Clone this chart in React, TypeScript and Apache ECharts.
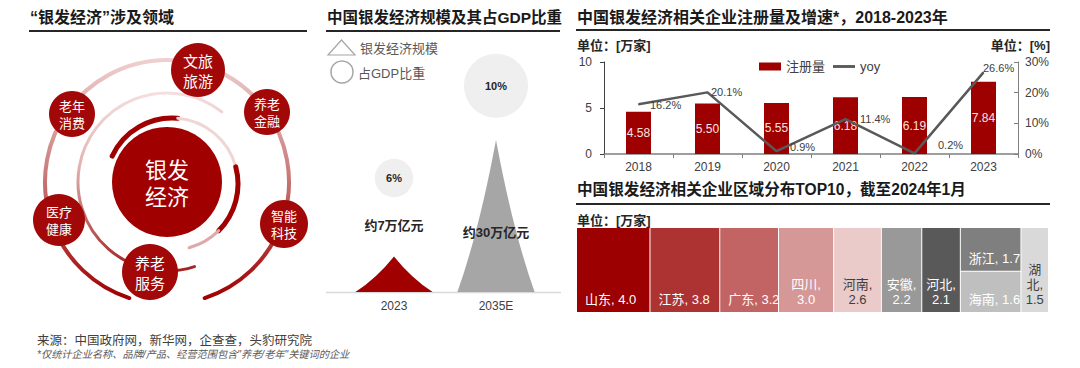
import { useEffect, useRef } from 'react';
import * as echarts from 'echarts';

// ---------- data ----------
const years = ['2018', '2019', '2020', '2021', '2022', '2023'];
const registrations = [4.58, 5.5, 5.55, 6.18, 6.19, 7.84]; // 万家
const yoy = [16.2, 20.1, 0.9, 11.4, 0.2, 26.6]; // %

const scaleYears = ['2023', '2035E'];
const scaleValues = [7, 30]; // 万亿元
const scaleLabels = ['约7万亿元', '约30万亿元'];
const gdpShare = [6, 10]; // %

const regions = ['山东', '江苏', '广东', '四川', '河南', '安徽', '河北', '浙江', '海南', '湖北'];
const regionValues = [4.0, 3.8, 3.2, 3.0, 2.6, 2.2, 2.1, 1.7, 1.6, 1.5];

const centerTopic = '银发\n经济';
const domains = ['文旅\n旅游', '养老\n金融', '智能\n科技', '养老\n服务', '医疗\n健康', '老年\n消费'];

// ---------- styles / layout ----------
const FF = '"Liberation Sans", "Noto Sans CJK SC", sans-serif';
const RED = '#9E0000';
const regionColors = ['#9C0000', '#AD3333', '#C26464', '#D69797', '#EBCACA', '#999999', '#595959', '#7F7F7F', '#BFBFBF', '#D9D9D9'];
const regionText = ['#fff', '#fff', '#fff', '#fff', '#404040', '#fff', '#fff', '#fff', '#fff', '#404040'];
const regionWrap = [0, 0, 0, 1, 1, 1, 1, 0, 0, 2];
const domainLayout = [
  { x: 198, y: 70, r: 27, fs: 15 },
  { x: 267, y: 112, r: 23, fs: 13 },
  { x: 284, y: 224, r: 24, fs: 13 },
  { x: 150, y: 272, r: 28, fs: 15 },
  { x: 59, y: 220, r: 26, fs: 13 },
  { x: 72, y: 114, r: 23, fs: 13 },
];
const yoyLabelOffsets = [[6, 1], [-2, 0], [8, -4], [9, 0], [18, -8], [-6, -4]];
const scaleColors = ['#A00000', '#A6A6A6'];
const scaleLabelPos = [{ position: 'top', offset: [0, -20] }, { position: 'inside', offset: [0, 16] }];
const bubbleLift = [22.5, 40.7]; // layout: vertical anchor of share bubbles (hidden axis units)

const deg = Math.PI / 180;

function txt(x: number, y: number, text: string, o: any = {}) {
  return {
    type: 'text',
    x,
    y,
    silent: true,
    style: {
      text,
      fill: o.color ?? '#262626',
      fontSize: o.size ?? 12,
      fontFamily: FF,
      fontWeight: o.bold ? 'bold' : 'normal',
      fontStyle: o.italic ? 'italic' : 'normal',
      textAlign: o.align ?? 'left',
      align: o.align ?? 'left',
      textVerticalAlign: 'middle',
      verticalAlign: 'middle',
      lineHeight: o.lh ?? Math.round((o.size ?? 12) * 1.25),
    },
  };
}
function hline(x1: number, x2: number, y: number, color = '#262626', w = 2) {
  return { type: 'line', silent: true, shape: { x1, y1: y, x2, y2: y }, style: { stroke: color, lineWidth: w } };
}
function arc(cx: number, cy: number, r: number, a0: number, a1: number, stroke: any, lw: number) {
  return {
    type: 'arc',
    silent: true,
    shape: { cx, cy, r, startAngle: a0 * deg, endAngle: a1 * deg, clockwise: true },
    style: { stroke, lineWidth: lw, fill: null, lineCap: 'round' },
  };
}

function buildOption() {
  const grad = (stops: [number, string][]) =>
    new echarts.graphic.LinearGradient(0, 0, 0, 1, stops.map(([offset, color]) => ({ offset, color })));

  const graphics: any[] = [
    // titles
    txt(30, 17, '“银发经济”涉及领域', { size: 16, bold: true, color: '#1a1a1a' }),
    hline(29, 307, 31),
    txt(327, 17, '中国银发经济规模及其占GDP比重', { size: 15.5, bold: true, color: '#1a1a1a' }),
    hline(326, 560, 31),
    txt(577, 17, '中国银发经济相关企业注册量及增速*，2018-2023年', { size: 16, bold: true, color: '#1a1a1a' }),
    hline(576, 1050, 30),
    txt(577, 45, '单位：[万家]', { size: 13, bold: true }),
    txt(1050, 45, '单位：[%]', { size: 13, bold: true, align: 'right' }),
    txt(577, 189, '中国银发经济相关企业区域分布TOP10，截至2024年1月', { size: 15.6, bold: true, color: '#1a1a1a' }),
    hline(576, 1050, 204),
    txt(577, 220, '单位：[万家]', { size: 13, bold: true }),
    // footer
    txt(37, 341, '来源：中国政府网，新华网，企查查，头豹研究院', { size: 12.5, color: '#404040' }),
    txt(37, 354, '*仅统计企业名称、品牌/产品、经营范围包含"养老/老年"关键词的企业', { size: 10.2, italic: true, color: '#595959' }),
    // panel 2 legend + baseline
    { type: 'polygon', silent: true, shape: { points: [[328, 55], [341.5, 40], [355, 55]] }, style: { fill: null, stroke: '#A6A6A6', lineWidth: 1.2 } },
    txt(360, 48, '银发经济规模', { size: 13, color: '#595959' }),
    { type: 'circle', silent: true, shape: { cx: 342, cy: 72, r: 11 }, style: { fill: null, stroke: '#A6A6A6', lineWidth: 1.5 } },
    txt(358, 73, '占GDP比重', { size: 13, color: '#595959' }),
    hline(326, 561, 292.5, '#D9D9D9', 1.5),
    // panel 1 rings
    arc(167, 182, 122, 108, 72, grad([[0, '#EFCFCF'], [0.45, '#CC8080'], [1, '#A00000']]), 4),
    arc(167, 182, 89, 72, 308, grad([[0, '#F4DEDE'], [0.4, '#E3B3B3'], [1, '#A52020']]), 3),
    arc(172, 184, 66, 205, 275, '#A00000', 5),
    arc(172, 184, 66, 275, 345, '#F0D5D5', 3),
    arc(172, 184, 66, 345, 405, '#A00000', 5),
    arc(172, 184, 66, 405, 435, '#DDA9A9', 3),
    { type: 'circle', silent: true, shape: { cx: 167, cy: 182, r: 55 }, style: { fill: '#A00000' } },
    txt(167, 184, centerTopic, { size: 22, color: '#fff', align: 'center', lh: 27 }),
  ];
  domains.forEach((d, i) => {
    const L = domainLayout[i];
    graphics.push({ type: 'circle', silent: true, shape: { cx: L.x, cy: L.y, r: L.r }, style: { fill: '#A20808' } });
    graphics.push(txt(L.x, L.y + 1, d, { size: L.fs, color: '#fff', align: 'center', lh: Math.round(L.fs * 1.3) }));
  });

  const axisTxt = { fontFamily: FF, fontSize: 12, color: '#404040' };

  return {
    animation: false,
    textStyle: { fontFamily: FF },
    graphic: { elements: graphics },
    legend: {
      left: 754,
      top: 55,
      itemWidth: 22,
      itemHeight: 8,
      itemGap: 8,
      symbolKeepAspect: true,
      textStyle: { fontFamily: FF, fontSize: 13, color: '#404040' },
      data: [
        { name: '注册量', icon: 'rect' },
        { name: 'yoy', icon: 'path://M0,0H100V13H0Z' },
      ],
    },
    grid: [
      { left: 604, top: 62, width: 414, height: 92 },
      { left: 343, top: 292 - (50 * 152) / 30, width: 204, height: (50 * 152) / 30 },
    ],
    xAxis: [
      {
        gridIndex: 0,
        type: 'category',
        data: years,
        axisLine: { lineStyle: { color: '#7F7F7F', width: 1.5 } },
        axisTick: { show: true, length: 4, lineStyle: { color: '#7F7F7F' } },
        axisLabel: { ...axisTxt, margin: 7 },
      },
      {
        gridIndex: 1,
        type: 'category',
        data: scaleYears,
        axisLine: { show: false },
        axisTick: { show: false },
        axisLabel: { ...axisTxt, margin: 8 },
      },
    ],
    yAxis: [
      {
        gridIndex: 0,
        type: 'value',
        min: 0,
        max: 10,
        interval: 5,
        axisLine: { show: true, lineStyle: { color: '#404040', width: 1 } },
        axisTick: { show: true, length: 4, lineStyle: { color: '#404040' } },
        axisLabel: { ...axisTxt, margin: 12 },
        splitLine: { show: false },
      },
      {
        gridIndex: 0,
        type: 'value',
        position: 'right',
        min: 0,
        max: 30,
        interval: 10,
        axisLine: { show: true, lineStyle: { color: '#808080', width: 1 } },
        axisTick: { show: true, inside: true, length: 4, lineStyle: { color: '#808080' } },
        axisLabel: { ...axisTxt, margin: 7, formatter: '{value}%' },
        splitLine: { show: false },
      },
      { gridIndex: 1, type: 'value', min: 0, max: 50, show: false },
    ],
    series: [
      {
        name: '注册量',
        type: 'bar',
        xAxisIndex: 0,
        yAxisIndex: 0,
        data: registrations,
        barWidth: 25,
        itemStyle: { color: RED },
        label: {
          show: true,
          position: 'inside',
          color: '#F6E3E3',
          fontFamily: FF,
          fontSize: 12,
          formatter: (p: any) => Number(p.value).toFixed(2),
        },
      },
      {
        name: 'yoy',
        type: 'line',
        xAxisIndex: 0,
        yAxisIndex: 1,
        symbol: 'circle',
        symbolSize: 1,
        showSymbol: true,
        z: 5,
        lineStyle: { color: '#595959', width: 2.5 },
        itemStyle: { color: '#595959' },
        data: yoy.map((v, i) => ({ value: v, label: { offset: yoyLabelOffsets[i] } })),
        label: {
          show: true,
          position: 'right',
          fontFamily: FF,
          fontSize: 11,
          color: '#404040',
          formatter: (p: any) => `${p.value}%`,
        },
      },
      {
        name: 'scale',
        type: 'pictorialBar',
        xAxisIndex: 1,
        yAxisIndex: 2,
        symbol: 'path://M0,100 Q28,60 50,0 Q72,60 100,100 Z',
        symbolSize: [77, '100%'],
        data: scaleValues.map((v, i) => ({
          value: v,
          itemStyle: { color: scaleColors[i] },
          label: scaleLabelPos[i],
        })),
        label: {
          show: true,
          fontFamily: FF,
          fontSize: 13,
          fontWeight: 'bold',
          color: '#262626',
          formatter: (p: any) => scaleLabels[p.dataIndex],
        },
      },
      {
        name: 'share',
        type: 'scatter',
        xAxisIndex: 1,
        yAxisIndex: 2,
        data: gdpShare.map((s, i) => ({ value: [i, bubbleLift[i]], share: s })),
        symbolSize: (_v: any, p: any) => gdpShare[p.dataIndex] * 6.4,
        itemStyle: { color: '#EFEFEF', opacity: 1 },
        label: {
          show: true,
          position: 'inside',
          fontFamily: FF,
          fontSize: 11,
          fontWeight: 'bold',
          color: '#262626',
          formatter: (p: any) => `${gdpShare[p.dataIndex]}%`,
        },
      },
      {
        name: 'regions',
        type: 'treemap',
        left: 577,
        top: 228,
        width: 471,
        height: 84,
        squareRatio: 0.85,
        roam: false,
        nodeClick: false,
        breadcrumb: { show: false },
        levels: [
          { itemStyle: { borderWidth: 0, gapWidth: 1, borderColor: '#fff' } },
          { itemStyle: { borderWidth: 0, gapWidth: 0 } },
        ],
        label: {
          show: true,
          position: 'insideBottomLeft',
          distance: 3,
          offset: [0, 3],
          fontFamily: FF,
          fontSize: 13,
          overflow: 'none',
          lineHeight: 15,
        },
        data: regions.map((name, i) => {
          const v = regionValues[i].toFixed(1);
          const w = regionWrap[i];
          const text = w === 0 ? `${name}, ${v}` : w === 1 ? `${name},\n${v}` : `${name[0]}\n${name[1]},\n${v}`;
          return {
            name,
            value: regionValues[i],
            itemStyle: { color: regionColors[i] },
            label: {
              color: regionText[i],
              position: w === 0 ? 'insideBottomLeft' : 'insideBottom',
              align: w === 0 ? 'left' : 'center',
              offset: [0, 3],
              formatter: () => text,
            },
          };
        }),
      },
    ],
  };
}

export default function App() {
  const ref = useRef<HTMLDivElement>(null);
  useEffect(() => {
    const chart = echarts.init(ref.current!, null, { renderer: 'svg' });
    chart.setOption(buildOption() as any);
    return () => chart.dispose();
  }, []);
  return (
    <div
      ref={ref}
      style={{ position: 'fixed', left: 0, top: 0, width: 1080, height: 368, background: '#fff' }}
    />
  );
}
